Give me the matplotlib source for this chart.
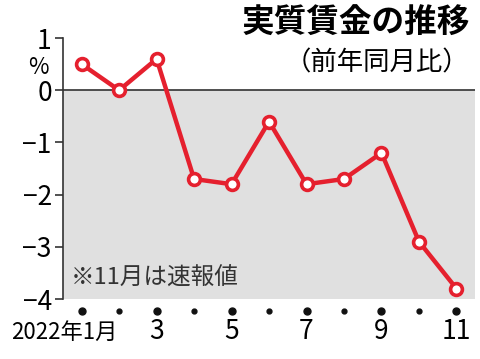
import matplotlib.pyplot as plt
import numpy as np

plt.rcParams['font.family'] = ['Noto Sans CJK JP', 'DejaVu Sans']

months = [1, 2, 3, 4, 5, 6, 7, 8, 9, 10, 11]
values = [0.5, 0.0, 0.6, -1.7, -1.8, -0.6, -1.8, -1.7, -1.2, -2.9, -3.8]
yticks = [1, 0, -1, -2, -3, -4]
ylabels = ['1', '0', '−1', '−2', '−3', '−4']
xlabels = {1: '2022年1月', 3: '3', 5: '5', 7: '7', 9: '9', 11: '11'}

fig = plt.figure(figsize=(4.8, 3.59), dpi=100)
ax = fig.add_axes([0.131, 0.167, 0.859, 0.727])
ax.set_xlim(0.5, 11.5)
ax.set_ylim(-4, 1)

# gray area below zero
ax.axhspan(-4, 0, color='#e0e0e0', zorder=0)
ax.axhline(0, color='#333333', lw=1.2, zorder=1)

red = '#e5202e'
ax.plot(months, values, color=red, lw=3.2, zorder=3,
        marker='o', ms=8.5, mfc='white', mec=red, mew=2.6)

for s in ['top', 'right', 'bottom']:
    ax.spines[s].set_visible(False)
ax.spines['left'].set_color('#333333')
ax.spines['left'].set_linewidth(1.2)
ax.set_yticks(yticks)
ax.set_yticklabels(ylabels, fontsize=19)
ax.tick_params(axis='y', length=6, width=1.2, color='#333333', pad=2)
ax.set_xticks([])

# month dots and labels below the axis
for m in months:
    big = m % 2 == 1
    ax.plot(m, -4.22, 'o', color='#111111', ms=5 if big else 3.5,
            clip_on=False, zorder=4)
for m, lab in xlabels.items():
    if m == 1:
        ax.text(m + 0.95, -4.63, lab, fontsize=16, ha='right', va='center',
                clip_on=False)
    else:
        ax.text(m, -4.63, lab, fontsize=19, ha='center', va='center',
                clip_on=False)

ax.text(-0.035, 0.43, '%', transform=ax.get_yaxis_transform(), fontsize=16,
        ha='right', va='center')

fig.text(0.98, 0.935, '実質賃金の推移', fontsize=23.5, fontweight='bold',
         ha='right', va='center')
fig.text(0.978, 0.825, '（前年同月比）', fontsize=19, ha='right', va='center')

ax.text(0.72, -3.6, '※11月は速報値', fontsize=17, color='#333333',
        ha='left', va='center')

fig.savefig('out.png', dpi=100)
